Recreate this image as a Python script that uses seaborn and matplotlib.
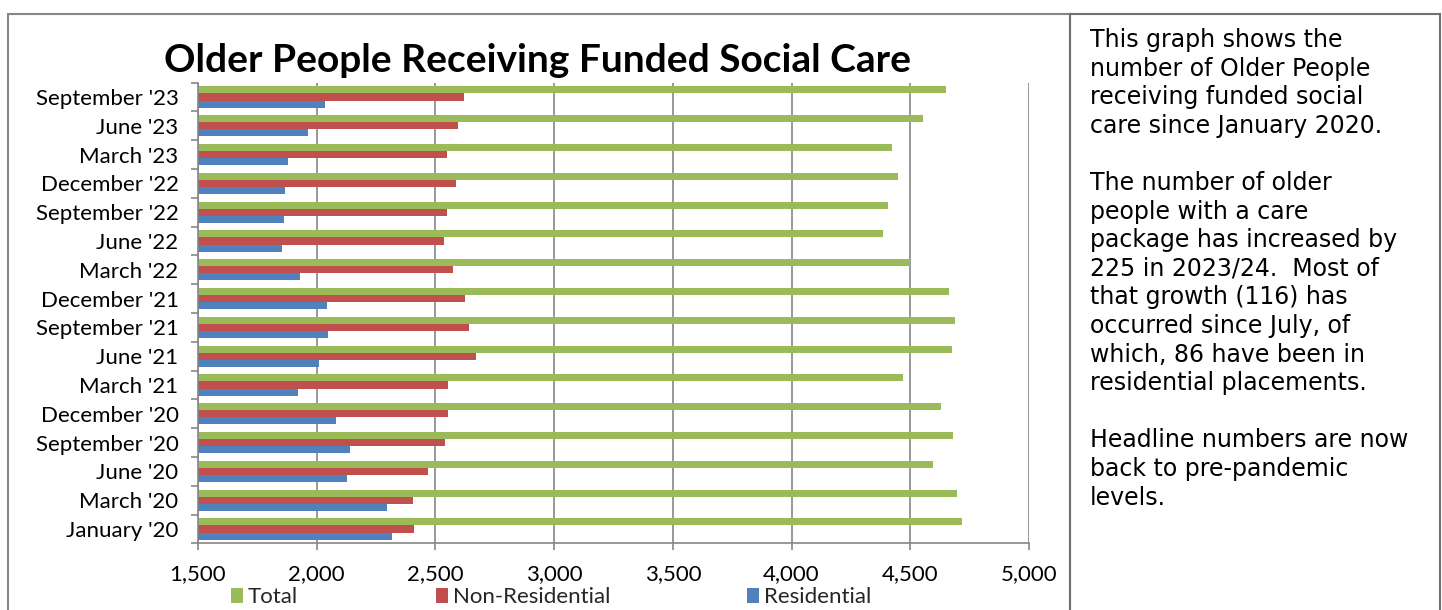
import matplotlib
matplotlib.use("Agg")
import matplotlib.pyplot as plt
import seaborn as sns
import pandas as pd
from matplotlib.patches import Rectangle, Patch
from matplotlib.ticker import FuncFormatter, MultipleLocator

categories = ["September '23", "June '23", "March '23", "December '22", "September '22",
              "June '22", "March '22", "December '21", "September '21", "June '21",
              "March '21", "December '20", "September '20", "June '20", "March '20",
              "January '20"]
total = [4650, 4555, 4424, 4448, 4408, 4386, 4498, 4663, 4687, 4674, 4468, 4630,
         4679, 4594, 4697, 4717]
non_residential = [2619, 2596, 2549, 2586, 2549, 2534, 2572, 2623, 2642, 2671, 2553,
                   2553, 2541, 2470, 2404, 2408]
residential = [2033, 1965, 1878, 1866, 1863, 1855, 1930, 2045, 2047, 2008, 1921, 2082,
               2142, 2128, 2297, 2316]
series_names = ["Total", "Non-Residential", "Residential"]
colors = ["#9BBB59", "#C0504D", "#4F81BD"]
title = "Older People Receiving Funded Social Care"
side_lines = ["This graph shows the", "number of Older People", "receiving funded social",
              "care since January 2020.", "", "The number of older", "people with a care",
              "package has increased by", "225 in 2023/24.  Most of",
              "that growth (116) has", "occurred since July, of",
              "which, 86 have been in", "residential placements.", "",
              "Headline numbers are now", "back to pre-pandemic", "levels."]

rows = []
for name, vals in zip(series_names, [total, non_residential, residential]):
    for c, v in zip(categories, vals):
        rows.append({"Month": c, "Series": name, "Value": v})
df = pd.DataFrame(rows)

sns.set_theme(style="white")
plt.rcParams["font.family"] = ["Lato", "DejaVu Sans"]

W, H = 1442, 610
fig = plt.figure(figsize=(W / 100, H / 100), dpi=100)
ax = fig.add_axes([198 / W, 1 - 543.4 / H, (1029 - 198) / W, (543.4 - 82.6) / H])

sns.barplot(data=df, y="Month", x="Value", hue="Series", order=categories,
            hue_order=series_names, palette=colors, orient="h", width=0.74,
            linewidth=0, saturation=1, ax=ax, legend=False)

ax.set_xlim(1500, 5000)
ax.set_ylim(len(categories) - 0.5, -0.5)
ax.xaxis.set_major_locator(MultipleLocator(500))
ax.xaxis.set_major_formatter(FuncFormatter(lambda v, p: f"{int(v):,}"))
ax.grid(axis="x", color="#868686", linewidth=1.2)
ax.set_axisbelow(True)
ax.set_xlabel("")
ax.set_ylabel("")
for s in ["top", "right"]:
    ax.spines[s].set_visible(False)
for s in ["left", "bottom"]:
    ax.spines[s].set_color("#868686")
    ax.spines[s].set_linewidth(1.2)
ax.tick_params(axis="x", length=5, color="#868686", width=1.2, labelsize=16, pad=10,
               bottom=True, labelcolor="black")
ax.tick_params(axis="y", which="major", length=0, labelsize=16, pad=14, labelcolor="black")
ax.set_yticks([i + 0.5 for i in range(-1, len(categories))], minor=True)
ax.tick_params(axis="y", which="minor", length=5, color="#868686", width=1.2, left=True)

fig.text(538 / W, 1 - 60 / H, title, ha="center", va="center", fontsize=28,
         fontweight="bold", color="black")

# legend entries
for name, col, xpos in zip(series_names, colors, [231, 436, 747]):
    leg = fig.legend(handles=[Patch(facecolor=col, edgecolor="none", label=name)],
                     loc="center left", bbox_to_anchor=(xpos / W, 1 - 597 / H),
                     frameon=False, fontsize=16, handlelength=0.55, handleheight=0.65,
                     handletextpad=0.2, borderpad=0, borderaxespad=0)

# frames
fig.patches.append(Rectangle((8 / W, -0.1), (1070 - 8) / W, 1.1 - 14 / H,
                             transform=fig.transFigure, fill=False,
                             edgecolor="#868686", linewidth=1.5))
fig.patches.append(Rectangle((1070 / W, -0.1), (1440 - 1070) / W, 1.1 - 14 / H,
                             transform=fig.transFigure, fill=False,
                             edgecolor="#707070", linewidth=1.5))

for i, line in enumerate(side_lines):
    if line:
        fig.text(1090 / W, 1 - (40 + i * 28.6) / H, line, ha="left", va="center",
                 fontsize=17, family=["DejaVu Sans"], color="black")

fig.savefig("out.png", dpi=100)
